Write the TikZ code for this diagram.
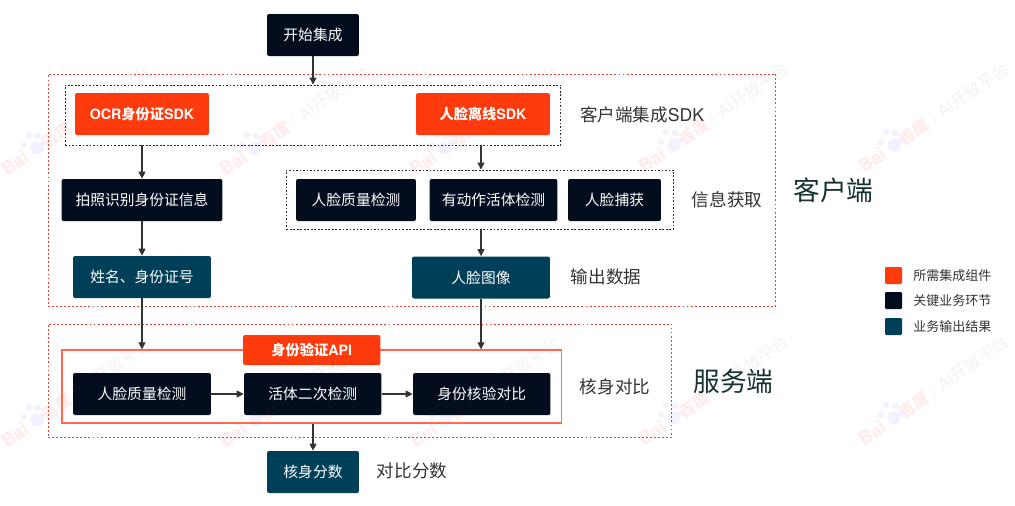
\documentclass[tikz,border=0pt]{standalone}
\usepackage{fontspec}
\usepackage{xcolor}
\setmainfont{Noto Sans CJK SC}
\newfontfamily\hlv{TeX Gyre Heros}
\usetikzlibrary{arrows.meta}
\definecolor{sdkred}{HTML}{FF3A0C}
\definecolor{stepnavy}{HTML}{030D1E}
\definecolor{outteal}{HTML}{003F58}
\definecolor{zonered}{HTML}{E2403A}
\definecolor{framered}{HTML}{FF6A4D}
\definecolor{notegray}{HTML}{333333}
\definecolor{zonetext}{HTML}{163232}
\tikzset{
	box/.style={rounded corners=1.2pt,inner sep=0pt,text=white,minimum height=.84cm,font=\fontsize{8.4}{10}\selectfont},
	sdkbox/.style={box,fill=sdkred,font=\fontsize{8.1}{10}\selectfont\bfseries},
	stepbox/.style={box,fill=stepnavy},
	outbox/.style={box,fill=outteal},
	zone/.style={draw=zonered,line width=.55pt,dash pattern=on 1.1pt off 1.2pt,inner sep=0pt},
	group/.style={draw=black!85,line width=.55pt,dash pattern=on 1pt off 1pt,inner sep=0pt},
	flow/.style={-{Triangle[length=4pt,width=4pt]},draw=notegray,line width=.65pt},
	note/.style={text=notegray,inner sep=0pt,font=\fontsize{10}{12}\selectfont},
	zonelabel/.style={text=zonetext,inner sep=0pt,font=\fontsize{15.2}{18}\selectfont},
	legendkey/.style={rounded corners=.6pt,inner sep=0pt,minimum size=.34cm},
	legendtext/.style={text=notegray,inner sep=0pt,font=\fontsize{7.4}{9}\selectfont},
	wmred/.style={text=red!8,inner sep=0pt,rotate=35},
	wmgray/.style={text=black!5,inner sep=0pt,rotate=35}
}

\begin{document}
\begin{tikzpicture}[x=.02cm,y=-.02cm]
	\useasboundingbox (0,0) rectangle (1015,505);
% watermark
	\foreach \wx/\wy [count=\wi] in {15/163,233/163,423/163,652/160,872/160,15/435,233/435,423/435,652/433,872/433}{
		\node[wmred,font=\hlv\fontsize{10.5}{12}\selectfont\bfseries] (bai\wi) at (\wx,\wy) {Bai};
		\foreach \px/\py/\pr in {9/-18/3.2,14/-28/3.2,23/-27/3.2,29/-20/3.2,22/-15/6.5}
			\fill[blue!5] (\wx+\px,\wy+\py) circle (\pr);
		\node[wmred,font=\fontsize{9}{11}\selectfont\bfseries] (du\wi) at (\wx+42,\wy-28) {百度};
		\node[wmgray,font=\fontsize{7}{8}\selectfont] (bar\wi) at (\wx+61,\wy-42) {|};
		\node[wmgray,font=\fontsize{9.5}{11}\selectfont] (open\wi) at (\wx+101,\wy-70) {{\hlv AI}开放平台};
	}

% client and server zones
	\node[zone,minimum width=14.56cm,minimum height=4.64cm] (client) at (412,190) {};
	\node[zone,minimum width=12.48cm,minimum height=2.26cm] (server) at (360,380.5) {};
% dashed groups
	\node[group,minimum width=9.92cm,minimum height=1.2cm] (sdkgroup) at (313,115) {};
	\node[group,minimum width=7.75cm,minimum height=1.18cm] (infogroup) at (480,199.5) {};
% solid frame
	\node[draw=framered,line width=.8pt,inner sep=0pt,minimum width=9.99cm,minimum height=1.46cm] (apiframe) at (311.75,386.5) {};

% top
	\node[stepbox,minimum width=1.84cm] (start) at (313,35) {开始集成};
% SDK row
	\node[sdkbox,minimum width=2.68cm] (ocr) at (142,114) {{\hlv OCR}身份证{\hlv SDK}};
	\node[sdkbox,minimum width=2.68cm] (offline) at (483,114) {人脸离线{\hlv SDK}};
% info row
	\node[stepbox,minimum width=3.22cm] (shot) at (142,200) {拍照识别身份证信息};
	\node[stepbox,minimum width=2.4cm] (quality) at (356,200) {人脸质量检测};
	\node[stepbox,minimum width=2.56cm] (action) at (493.5,200) {有动作活体检测};
	\node[stepbox,minimum width=1.86cm] (capture) at (614.5,200) {人脸捕获};
% output row
	\node[outbox,minimum width=2.76cm] (idinfo) at (142,277) {姓名、身份证号};
	\node[outbox,minimum width=2.76cm] (faceimg) at (481,277.5) {人脸图像};
% server row
	\node[sdkbox,minimum width=2.75cm,minimum height=.6cm] (api) at (311.75,350) {身份验证{\hlv API}};
	\node[stepbox,minimum width=2.76cm] (check) at (142,394) {人脸质量检测};
	\node[stepbox,minimum width=2.75cm] (live) at (312.75,394) {活体二次检测};
	\node[stepbox,minimum width=2.75cm] (match) at (481.75,394) {身份核验对比};
% score
	\node[outbox,minimum width=1.84cm] (score) at (313,472) {核身分数};

% notes
	\node[note] (notesdk) at (642,115) {客户端集成{\hlv SDK}};
	\node[note] (noteinfo) at (727,200) {信息获取};
	\node[note] (noteout) at (606,277) {输出数据};
	\node[note] (notecmp) at (615,387) {核身对比};
	\node[note] (notescore) at (412,471) {对比分数};
	\node[zonelabel] (clientlabel) at (833.5,190) {客户端};
	\node[zonelabel] (serverlabel) at (733.5,381) {服务端};

% legend
	\node[legendkey,fill=sdkred] (keysdk) at (893.5,275.5) {};
	\node[legendkey,fill=stepnavy] (keystep) at (893.5,300.5) {};
	\node[legendkey,fill=outteal] (keyout) at (893.5,326.5) {};
	\node[legendtext,anchor=west] (textsdk) at (913,275.5) {所需集成组件};
	\node[legendtext,anchor=west] (textstep) at (913,300.5) {关键业务环节};
	\node[legendtext,anchor=west] (textout) at (913,326.5) {业务输出结果};

% flow
	\draw[flow] (start) -- (start |- sdkgroup.north);
	\draw[flow] (ocr |- sdkgroup.south) -- (shot);
	\draw[flow] (faceimg |- sdkgroup.south) -- (faceimg |- infogroup.north);
	\draw[flow] (shot) -- (idinfo);
	\draw[flow] (faceimg |- infogroup.south) -- (faceimg);
	\draw[flow] (idinfo) -- (idinfo |- apiframe.north);
	\draw[flow] (faceimg) -- (faceimg |- apiframe.north);
	\draw[flow] (check) -- (live);
	\draw[flow] (live) -- (match);
	\draw[flow] (start |- apiframe.south) -- (score);
\end{tikzpicture}
\end{document}
